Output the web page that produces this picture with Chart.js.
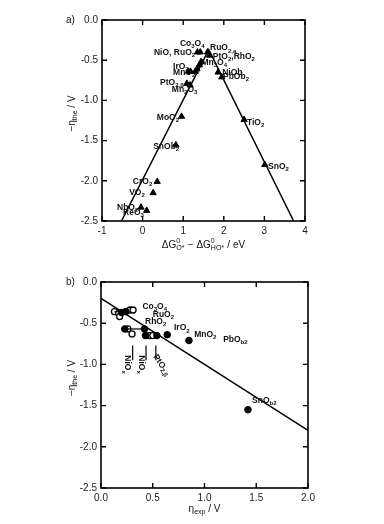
<!DOCTYPE html>
<html><head><meta charset="utf-8">
<script src="https://cdn.jsdelivr.net/npm/chart.js@4"></script>
<style>
html,body{margin:0;padding:0;background:#fff;width:384px;height:524px;overflow:hidden}
canvas{position:absolute;left:0}
#c1{top:0}#c2{top:262px}
</style></head><body>
<canvas id="c1" width="384" height="262"></canvas>
<canvas id="c2" width="384" height="262"></canvas>
<script>
// ---------- DATA: panel a ----------
const topDeltaG  = [1.35, 1.42, 1.60, 1.65, 1.30, 1.34, 1.40, 1.44, 1.13, 1.18, 1.09, 1.17, 1.86, 1.95, 0.96, 2.50, 0.82, 3.01, 0.36, 0.26, -0.04, 0.10];
const topEtaThe  = [-0.40, -0.40, -0.40, -0.44, -0.64, -0.61, -0.56, -0.52, -0.64, -0.64, -0.79, -0.81, -0.65, -0.71, -1.20, -1.24, -1.555, -1.80, -2.01, -2.15, -2.33, -2.37];
const volcanoX   = [-0.52, 1.63, 3.72];
const volcanoY   = [-2.5, -0.37, -2.5];
const topXTicks  = [-1, 0, 1, 2, 3, 4];
const topYTicks  = [0, -0.5, -1, -1.5, -2, -2.5];
const topNames   = ["NiO, RuO_2","Co_3O_4","RuO_{2,a}","PtO_2,RhO_2","Mn_3O_4","IrO_2","MnO_2","NiOb","PbOb_2","PtO_{2,β}","Mn_2O_3","MoO_2","TiO_2","SnOb_2","SnO_2","CrO_2","VO_2","NbO_2","ReO_3"];

// ---------- DATA: panel b ----------
const openEtaExp  = [0.13, 0.17, 0.18, 0.28, 0.31, 0.26, 0.30, 0.47, 0.50];
const openEtaThe  = [-0.36, -0.38, -0.42, -0.34, -0.34, -0.57, -0.63, -0.65, -0.65];
const fillEtaExp  = [0.20, 0.24, 0.23, 0.42, 0.43, 0.54, 0.64, 0.85, 1.42];
const fillEtaThe  = [-0.37, -0.36, -0.57, -0.57, -0.65, -0.65, -0.64, -0.71, -1.55];
const rangeRow1X  = [0.13, 0.24];
const rangeRow1Y  = [-0.36, -0.36];
const rangeRow2X  = [0.26, 0.42];
const rangeRow2Y  = [-0.57, -0.57];
const fitX        = [0, 2];
const fitY        = [-0.2, -1.8];
const botXTicks   = [0, 0.5, 1, 1.5, 2];
const botYTicks   = [0, -0.5, -1, -1.5, -2, -2.5];
const botNames    = ["Co_3O_4","RuO_2","RhO_2","IrO_2","MnO_2","PbO_{b2}","SnO_{b2}","NiO_x","NiO_x","PtO_{2,β}"];

// ---------- LAYOUT (label placement, data units) ----------
const topLabelPlace = [[0.28,-0.41],[0.92,-0.30],[1.66,-0.35],[1.73,-0.46],[1.45,-0.535],[0.75,-0.585],[0.75,-0.65],[1.96,-0.65],[1.98,-0.71],[0.43,-0.78],[0.72,-0.87],[0.35,-1.21],[2.57,-1.28],[0.26,-1.57],[3.09,-1.82],[-0.24,-2.01],[-0.33,-2.15],[-0.63,-2.33],[-0.48,-2.40]];
const botLabelPlace = [[0.40,-0.30,0],[0.50,-0.40,0],[0.425,-0.485,0],[0.705,-0.56,0],[0.90,-0.64,0],[1.18,-0.70,0],[1.46,-1.44,0],[0.25,-0.89,90],[0.386,-0.89,90],[0.52,-0.89,55]];
const botLeaders    = [[0.306,-0.77,-0.95],[0.435,-0.77,-0.95],[0.53,-0.77,-0.95]];

const SANS = "'Liberation Sans', Arial, sans-serif";

function richParse(s){
  const out=[]; let i=0, buf='';
  const flush=()=>{ if(buf){ out.push({t:buf,m:'n'}); buf=''; } };
  while(i<s.length){
    const c=s[i];
    if(c==='_'||c==='^'){
      flush(); let t;
      if(s[i+1]==='{'){ const j=s.indexOf('}',i+2); t=s.slice(i+2,j); i=j+1; }
      else { t=s[i+1]; i+=2; }
      out.push({t, m: c==='_'?'sub':'sup'});
    } else { buf+=c; i++; }
  }
  flush(); return out;
}
function drawRich(ctx, s, x, y, size, weight, align, rot){
  const toks=richParse(s);
  const fN=`${weight} ${size}px ${SANS}`, fS=`${weight} ${Math.round(size*0.68)}px ${SANS}`;
  let w=0; const pos=[];
  for(let k=0;k<toks.length;k++){
    const tk=toks[k];
    ctx.font = tk.m==='n'?fN:fS;
    const tw=ctx.measureText(tk.t).width;
    if(tk.m==='sup' && toks[k+1] && toks[k+1].m==='sub'){
      ctx.font=fS; const tw2=ctx.measureText(toks[k+1].t).width;
      pos.push({tk,x:w}); pos.push({tk:toks[k+1],x:w}); w+=Math.max(tw,tw2)+0.5; k++; continue;
    }
    pos.push({tk,x:w}); w+=tw;
  }
  ctx.save();
  ctx.translate(x,y);
  if(rot) ctx.rotate(rot*Math.PI/180);
  const x0 = align==='center'? -w/2 : align==='right'? -w : 0;
  ctx.textBaseline='middle'; ctx.textAlign='left'; ctx.fillStyle='#111';
  for(const p of pos){
    const m=p.tk.m;
    ctx.font = m==='n'?fN:fS;
    const dy = m==='sub'? size*0.32 : m==='sup'? -size*0.38 : 0;
    ctx.fillText(p.tk.t, x0+p.x, dy);
  }
  ctx.restore();
  return w;
}

function deco(cfg){
  return {
    id:'deco',
    afterDraw(chart){
      const ctx=chart.ctx, xs=chart.scales.x, ys=chart.scales.y;
      const {left,right,top,bottom}=chart.chartArea;
      ctx.save();
      ctx.strokeStyle='#000'; ctx.lineWidth=1.6;
      ctx.strokeRect(left,top,right-left,bottom-top);
      ctx.lineWidth=1.4;
      ctx.beginPath();
      for(const v of cfg.xt){ const p=xs.getPixelForValue(v); ctx.moveTo(p,bottom); ctx.lineTo(p,bottom-5); ctx.moveTo(p,top); ctx.lineTo(p,top+5); }
      for(const v of cfg.yt){ const p=ys.getPixelForValue(v); ctx.moveTo(left,p); ctx.lineTo(left+5,p); ctx.moveTo(right,p); ctx.lineTo(right-5,p); }
      ctx.stroke();
      if(cfg.leaders){
        ctx.lineWidth=1.2; ctx.beginPath();
        for(const [lx,y1,y2] of cfg.leaders){ const p=xs.getPixelForValue(lx); ctx.moveTo(p,ys.getPixelForValue(y1)); ctx.lineTo(p,ys.getPixelForValue(y2)); }
        ctx.stroke();
      }
      cfg.names.forEach((n,i)=>{
        const pl=cfg.place[i];
        drawRich(ctx, n, xs.getPixelForValue(pl[0]), ys.getPixelForValue(pl[1]), 8.5, 'bold', 'left', pl[2]||0);
      });
      drawRich(ctx, cfg.xTitle, (left+right)/2, bottom+cfg.titleOff, 10, 'normal', 'center', 0);
      drawRich(ctx, '−η_{the} / V', 72, (top+bottom)/2-7, 10, 'normal', 'center', -90);
      ctx.font=`normal 10px ${SANS}`; ctx.fillStyle='#111'; ctx.textBaseline='middle'; ctx.textAlign='left';
      ctx.fillText(cfg.letter, cfg.letterX, top);
      ctx.restore();
    }
  };
}

function axes(xmin,xmax,xt,yt,xfmt,yw,xh){
  const tickFont={family:SANS,size:10};
  return {
    x:{type:'linear',min:xmin,max:xmax,grid:{display:false,drawTicks:false,tickLength:0},border:{display:false},
       afterBuildTicks:s=>{s.ticks=xt.map(v=>({value:v}));},
       ticks:{font:tickFont,color:'#222',padding:4,maxRotation:0,autoSkip:false,callback:xfmt},
       afterFit:s=>{s.height=xh;}},
    y:{type:'linear',min:-2.5,max:0,grid:{display:false,drawTicks:false,tickLength:0},border:{display:false},
       afterBuildTicks:s=>{s.ticks=yt.map(v=>({value:v}));},
       ticks:{font:tickFont,color:'#222',padding:4,autoSkip:false,callback:v=>Number(v).toFixed(1)},
       afterFit:s=>{s.width=yw;}}
  };
}
const pts=(xa,ya)=>xa.map((v,i)=>({x:v,y:ya[i]}));
const common={responsive:false,animation:false,events:[],plugins:{legend:{display:false},tooltip:{enabled:false}}};

new Chart(document.getElementById('c1'),{
  type:'scatter',
  data:{datasets:[
    {type:'line',data:pts(volcanoX,volcanoY),borderColor:'#000',borderWidth:1.5,pointRadius:0,fill:false,tension:0},
    {data:pts(topDeltaG,topEtaThe),pointStyle:'triangle',pointRadius:3.6,backgroundColor:'#000',borderColor:'#000',borderWidth:1}
  ]},
  options:Object.assign({},common,{
    layout:{padding:{top:20,right:79,left:0,bottom:0}},
    scales:axes(-1,4,topXTicks,topYTicks,v=>String(v),102,41)
  }),
  plugins:[deco({xt:topXTicks,yt:topYTicks,names:topNames,place:topLabelPlace,xTitle:'ΔG^0_{O*} − ΔG^0_{HO*} / eV',titleOff:24,letter:'a)',letterX:66})]
});

new Chart(document.getElementById('c2'),{
  type:'scatter',
  data:{datasets:[
    {type:'line',data:pts(fitX,fitY),borderColor:'#000',borderWidth:1.5,pointRadius:0,fill:false,tension:0},
    {type:'line',data:pts(rangeRow1X,rangeRow1Y),borderColor:'#000',borderWidth:1.2,pointRadius:0,fill:false},
    {type:'line',data:pts(rangeRow2X,rangeRow2Y),borderColor:'#000',borderWidth:1.2,pointRadius:0,fill:false},
    {data:pts(fillEtaExp,fillEtaThe),pointStyle:'circle',pointRadius:3.3,backgroundColor:'#000',borderColor:'#000',borderWidth:1},
    {data:pts(openEtaExp,openEtaThe),pointStyle:'circle',pointRadius:3,backgroundColor:'#fff',borderColor:'#000',borderWidth:1.3}
  ]},
  options:Object.assign({},common,{
    layout:{padding:{top:20,right:76,left:0,bottom:0}},
    scales:axes(0,2,botXTicks,botYTicks,v=>Number(v).toFixed(1),101,36)
  }),
  plugins:[deco({xt:botXTicks,yt:botYTicks,names:botNames,place:botLabelPlace,leaders:botLeaders,xTitle:'η_{exp} / V',titleOff:21,letter:'b)',letterX:66})]
});
</script>
</body></html>
